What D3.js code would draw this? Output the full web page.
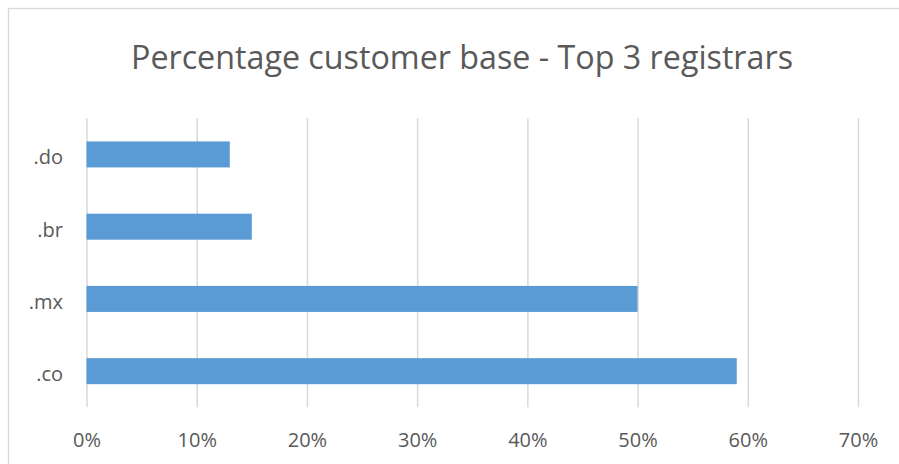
<!DOCTYPE html>
<html>
<head>
<meta charset="utf-8">
<script src="https://cdn.jsdelivr.net/npm/d3@7"></script>
<style>
    body { margin: 0; background: #fff; }
    svg { display: block; }
</style>
</head>
<body>
<div id="viz"></div>
<script>
// chart values
const categories = ['.do', '.br', '.mx', '.co'];
const shares = [0.13, 0.15, 0.50, 0.59];
const tickValues = [0, 0.1, 0.2, 0.3, 0.4, 0.5, 0.6, 0.7];
const title = 'Percentage customer base - Top 3 registrars';

const width = 899, height = 464;
const plotLeft = 86.5, plotRight = 858, plotTop = 118.3, plotBottom = 407.3;
const textColor = '#595959', gridColor = '#D9D9D9', barColor = '#5B9BD5';
const fontFamily = '"Open Sans", sans-serif';

let xScale = d3.scaleLinear()
    .domain([0, 0.7])
    .range([plotLeft, plotRight]);

let yScale = d3.scaleBand()
    .domain(categories)
    .range([plotTop, plotBottom])
    .paddingInner(0.64)
    .paddingOuter(0.32);

let svg = d3.select('#viz')
    .append('svg')
    .attr('width', width)
    .attr('height', height)
    .style('font-family', fontFamily);

// chart frame
svg.append('rect')
    .attr('x', 8.5)
    .attr('y', 8.5)
    .attr('width', 920)
    .attr('height', 480)
    .attr('fill', '#fff')
    .attr('stroke', gridColor)
    .attr('stroke-width', 1.3);

svg.append('text')
    .attr('x', 131)
    .attr('y', 69)
    .attr('textLength', 662)
    .attr('lengthAdjust', 'spacingAndGlyphs')
    .attr('fill', textColor)
    .style('font-size', '32px')
    .text(title);

// gridlines + percent labels
let xAxis = svg.append('g')
    .attr('transform', `translate(0,${plotBottom})`)
    .call(d3.axisBottom(xScale)
        .tickValues(tickValues)
        .tickSizeInner(-(plotBottom - plotTop))
        .tickSizeOuter(0)
        .tickPadding(26)
        .tickFormat(d3.format('.0%')));

xAxis.select('.domain').remove();
xAxis.selectAll('line')
    .attr('stroke', gridColor)
    .attr('stroke-width', 1.5);
xAxis.selectAll('text')
    .attr('fill', textColor)
    .style('font-family', fontFamily)
    .style('font-size', '20px');

// category labels
let yAxis = svg.append('g')
    .attr('transform', `translate(${plotLeft},0)`)
    .call(d3.axisLeft(yScale).tickSize(0).tickPadding(23.5));

yAxis.select('.domain').remove();
yAxis.selectAll('text')
    .attr('dy', '0.5em')
    .attr('fill', textColor)
    .style('font-family', fontFamily)
    .style('font-size', '20px');

svg.append('g')
    .selectAll('rect')
    .data(shares)
    .enter()
    .append('rect')
    .attr('x', xScale(0))
    .attr('y', (d, i) => yScale(categories[i]))
    .attr('width', d => xScale(d) - xScale(0))
    .attr('height', yScale.bandwidth())
    .attr('fill', barColor);
</script>
</body>
</html>
